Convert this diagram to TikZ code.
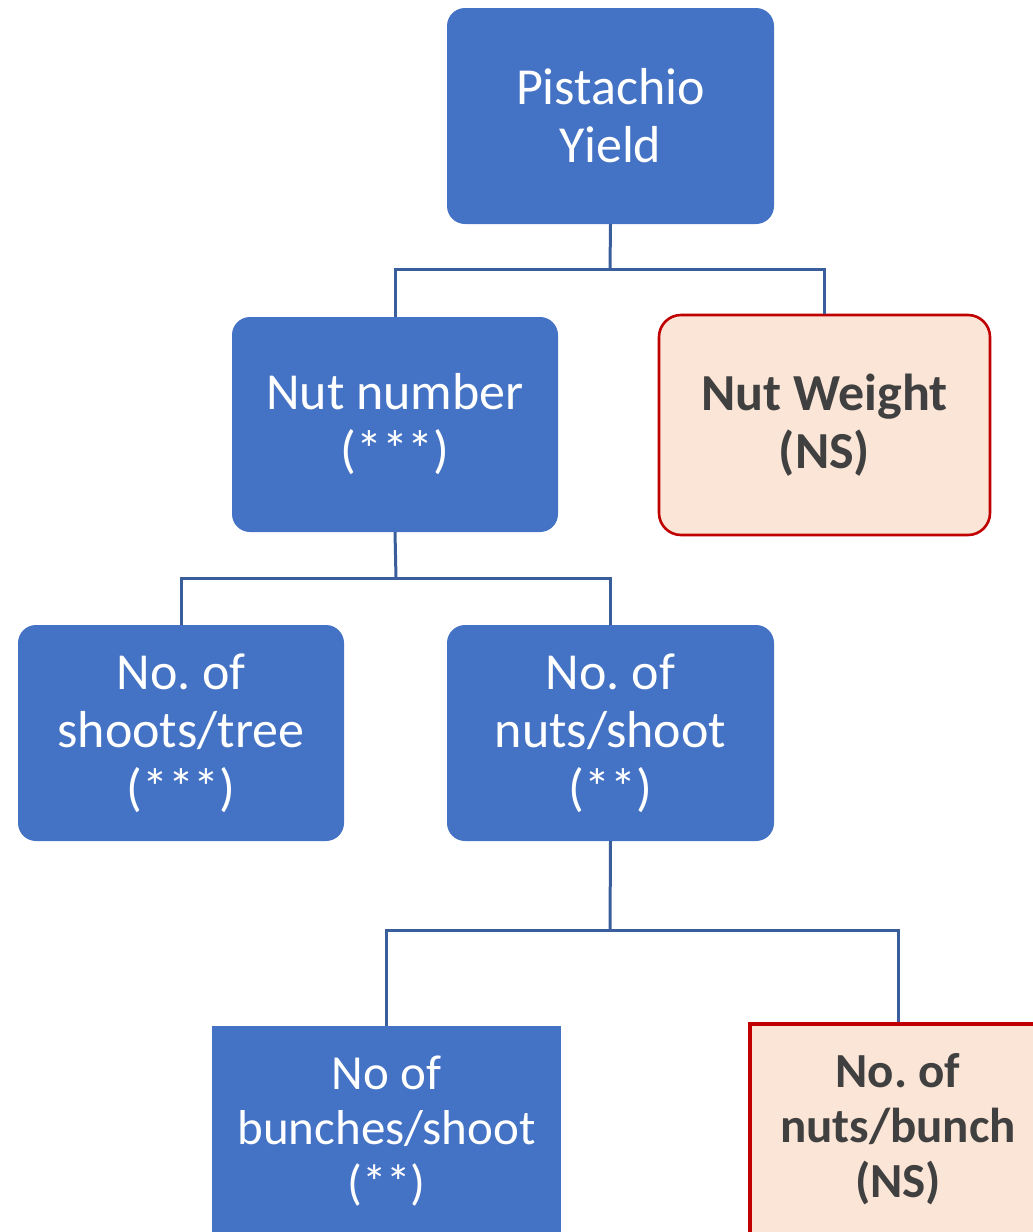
\documentclass[tikz,border=0pt]{standalone}
\usepackage{fontspec}
\setmainfont{Carlito}
\frenchspacing
\definecolor{boxblue}{HTML}{4472C4}
\definecolor{lineblue}{HTML}{3A5D9C}
\definecolor{nsfill}{HTML}{FBE5D6}
\definecolor{nsred}{HTML}{C00000}
\definecolor{nstext}{HTML}{404040}
\begin{document}
\begin{tikzpicture}[x=1pt,y=-1pt,
  bluebox/.style={draw=none, fill=boxblue, rounded corners=18pt, text=white, align=center, inner sep=0pt, font=\fontsize{52}{58}\selectfont},
  nsbox/.style={draw=nsred, line width=2.6pt, fill=nsfill, rounded corners=22pt, text=nstext, align=center, inner sep=0pt, font=\fontsize{52}{58}\selectfont\bfseries},
  smallblue/.style={bluebox, rounded corners=0pt, font=\fontsize{49}{55}\selectfont},
  smallns/.style={nsbox, line width=3.2pt, rounded corners=0pt, font=\fontsize{49}{55}\selectfont\bfseries},
  conn/.style={draw=lineblue, line width=3pt}]
\useasboundingbox (0,0) rectangle (1033,1232);
\clip (0,0) rectangle (1033,1232);
\node[bluebox, minimum width=327pt, minimum height=216pt] (top) at (610.5,116) {Pistachio\\Yield};
\node[bluebox, minimum width=326pt, minimum height=215pt] (nn) at (395,424.5) {Nut number\\(***)};
\node[nsbox, minimum width=331pt, minimum height=220pt] (nw) at (824.5,425) {Nut Weight\\(NS)};
\node[bluebox, minimum width=326pt, minimum height=216pt] (st) at (181,733) {No. of\\shoots/tree\\(***)};
\node[bluebox, minimum width=327pt, minimum height=216pt] (ns) at (610.5,733) {No. of\\nuts/shoot\\(**)};
\node[smallblue, minimum width=349pt, minimum height=210pt] (bs) at (386.5,1131) {No of\\bunches/shoot\\(**)};
\node[smallns, minimum width=296pt, minimum height=210pt] (nb) at (898,1129) {No. of\\nuts/bunch\\(NS)};
\coordinate (j1) at (610,269);
\coordinate (j2) at (396,578);
\coordinate (j3) at (610,930);
\draw[conn] (top.south) -- (j1);
\draw[conn] (nn.north) |- (j1) -| (nw.north);
\draw[conn] (nn.south) -- (j2);
\draw[conn] (st.north) |- (j2) -| (ns.north);
\draw[conn] (ns.south) -- (j3);
\draw[conn] (bs.north) |- (j3) -| (nb.north);
\end{tikzpicture}
\end{document}
